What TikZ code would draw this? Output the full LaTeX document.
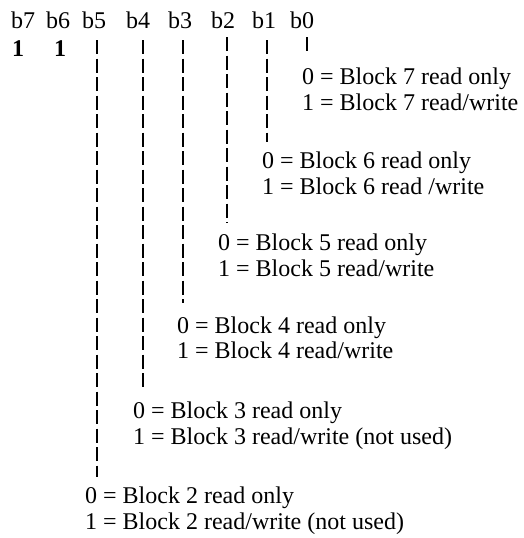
\documentclass[tikz,border=0pt]{standalone}
\usepackage{fontspec}
\setmainfont{Liberation Serif}
\begin{document}
\begin{tikzpicture}[x=1pt,y=-1pt,
  lbl/.style={anchor=base west,inner sep=0pt,font=\fontsize{24}{26}\selectfont},
  bitone/.style={anchor=base west,inner sep=0pt,font=\fontsize{24}{26}\selectfont\bfseries},
  dline/.style={line width=1.2pt,dash pattern=on 14pt off 4.5pt}]
\useasboundingbox (0,0) rectangle (523,538);
% header
\node[lbl] (h7) at (11,28) {b7};
\node[lbl] (h6) at (46,28) {b6};
\node[lbl] (h5) at (82,28) {b5};
\node[lbl] (h4) at (126,28) {b4};
\node[lbl] (h3) at (168,28) {b3};
\node[lbl] (h2) at (211,28) {b2};
\node[lbl] (h1) at (252,28) {b1};
\node[lbl] (h0) at (290,28) {b0};
\node[bitone] (v7) at (12,56) {1};
\node[bitone] (v6) at (54,56) {1};
% texts
\node[lbl] (z0) at (302,84) {0 = Block 7 read only};
\node[lbl] (o0) at (302,110) {1 = Block 7 read/write};
\node[lbl] (z1) at (262,168) {0 = Block 6 read only};
\node[lbl] (o1) at (262,194) {1 = Block 6 read /write};
\node[lbl] (z2) at (218,250) {0 = Block 5 read only};
\node[lbl] (o2) at (218,276) {1 = Block 5 read/write};
\node[lbl] (z3) at (177,333) {0 = Block 4 read only};
\node[lbl] (o3) at (177,358) {1 = Block 4 read/write};
\node[lbl] (z4) at (133,418) {0 = Block 3 read only};
\node[lbl] (o4) at (133,444) {1 = Block 3 read/write (not used)};
\node[lbl] (z5) at (85,503) {0 = Block 2 read only};
\node[lbl] (o5) at (85,529) {1 = Block 2 read/write (not used)};
% dashed lines
\coordinate (t0) at (307,37);  \coordinate (e0) at (307,53);
\coordinate (t1) at (267,40);  \coordinate (e1) at (267,142);
\coordinate (t2) at (227,37);  \coordinate (e2) at (227,223);
\coordinate (t3) at (183,40);  \coordinate (e3) at (183,303);
\coordinate (t4) at (143,40);  \coordinate (e4) at (143,390);
\coordinate (t5) at (97,40);   \coordinate (e5) at (97,477);
\foreach \i in {0,...,5} {\draw[dline] (t\i) -- (e\i);}
\end{tikzpicture}
\end{document}
